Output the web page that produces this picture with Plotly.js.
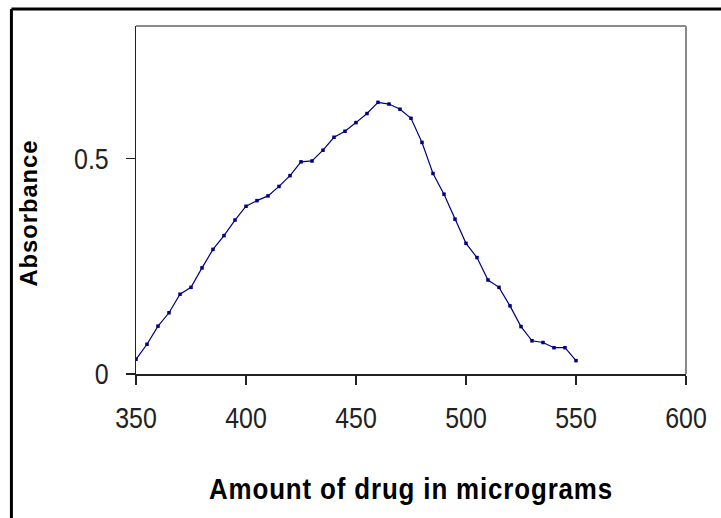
<!DOCTYPE html>
<html>
<head>
<meta charset="utf-8">
<script src="https://cdn.plot.ly/plotly-3.0.1.min.js"></script>
<style>
html,body{margin:0;padding:0;background:#fff;}
#chart{width:721px;height:518px;}
</style>
</head>
<body>
<div id="chart"></div>
<script>
// Data
const amount = [350,355,360,365,370,375,380,385,390,395,400,405,410,415,420,425,430,435,440,445,450,455,460,465,470,475,480,485,490,495,500,505,510,515,520,525,530,535,540,545,550];
const absorbance = [0.034,0.069,0.111,0.142,0.185,0.201,0.246,0.289,0.321,0.357,0.389,0.402,0.413,0.435,0.460,0.492,0.494,0.519,0.549,0.563,0.583,0.604,0.630,0.626,0.614,0.593,0.537,0.465,0.417,0.359,0.303,0.270,0.218,0.201,0.158,0.110,0.077,0.073,0.061,0.061,0.031];
const xTicks = [350,400,450,500,550,600];
const yTicks = [0,0.5];
const yTickLabels = ["0","0.5"];
const xTitle = "Amount of drug in micrograms";
const yTitle = "Absorbance";

const sans = "Liberation Sans, Arial, sans-serif";

const trace = {
  x: amount, y: absorbance, type: 'scatter', mode: 'lines+markers',
  line: {color: '#000080', width: 1.2},
  marker: {color: '#000080', size: 3.5, symbol: 'square'},
  hoverinfo: 'x+y'
};

const layout = {
  width: 721, height: 518,
  margin: {l: 136, r: 35, t: 26, b: 144},
  paper_bgcolor: '#ffffff', plot_bgcolor: '#ffffff',
  showlegend: false,
  xaxis: {
    range: [350, 600], tickvals: xTicks, ticktext: xTicks.map(String),
    showgrid: false, zeroline: false, showline: true, linecolor: '#222', linewidth: 1.5,
    ticks: 'outside', ticklen: 9, tickcolor: '#222', tickwidth: 1.5,
    ticklabelstandoff: 9,
    tickfont: {family: sans, size: 29, color: '#222'},
    title: {text: xTitle, font: {family: sans, size: 30, color: '#000', weight: 'bold'}, standoff: 44}
  },
  yaxis: {
    range: [0, 0.807], tickvals: yTicks, ticktext: yTickLabels,
    showgrid: false, zeroline: false, showline: true, linecolor: '#222', linewidth: 1.5,
    ticks: 'outside', ticklen: 9, tickcolor: '#222', tickwidth: 1.5,
    ticklabelstandoff: 11,
    tickfont: {family: sans, size: 29, color: '#222'},
    title: {text: ''}
  },
  annotations: [
    {text: yTitle, xref: 'paper', yref: 'paper', x: -0.1956, y: 0.4626,
     xanchor: 'center', yanchor: 'middle', textangle: -90, showarrow: false,
     font: {family: sans, size: 24, color: '#000', weight: 'bold'}}
  ],
  shapes: [
    {type: 'line', xref: 'paper', yref: 'paper', x0: 0, x1: 1, y0: 1, y1: 1, line: {color: '#8a8a8a', width: 2}},
    {type: 'line', xref: 'paper', yref: 'paper', x0: 1, x1: 1, y0: 0, y1: 1, line: {color: '#8a8a8a', width: 2}},
    {type: 'line', xref: 'paper', yref: 'paper', x0: -0.2265, x1: 1.1, y0: 1.0489, y1: 1.0489, line: {color: '#000', width: 3}},
    {type: 'line', xref: 'paper', yref: 'paper', x0: -0.2265, x1: -0.2265, y0: -0.45, y1: 1.0489, line: {color: '#000', width: 3}}
  ]
};

// Condense text horizontally to mimic the narrow font of the original
function condense(el, spacing, target) {
  el.style.letterSpacing = spacing + 'px';
  el.setAttribute('textLength', target);
  el.setAttribute('lengthAdjust', 'spacingAndGlyphs');
}

Plotly.newPlot('chart', [trace], layout, {displayModeBar: false, staticPlot: true}).then(function (gd) {
  gd.querySelectorAll('.xtick text, .ytick text').forEach(function (t) {
    const w = t.getComputedTextLength();
    condense(t, 0, (w * 0.86).toFixed(1));
  });
  const xt = gd.querySelector('.g-xtitle text');
  if (xt) condense(xt, 1, 404);
  const yt = gd.querySelector('.annotation-text');
  if (yt) condense(yt, 1, 147);
});
</script>
</body>
</html>
